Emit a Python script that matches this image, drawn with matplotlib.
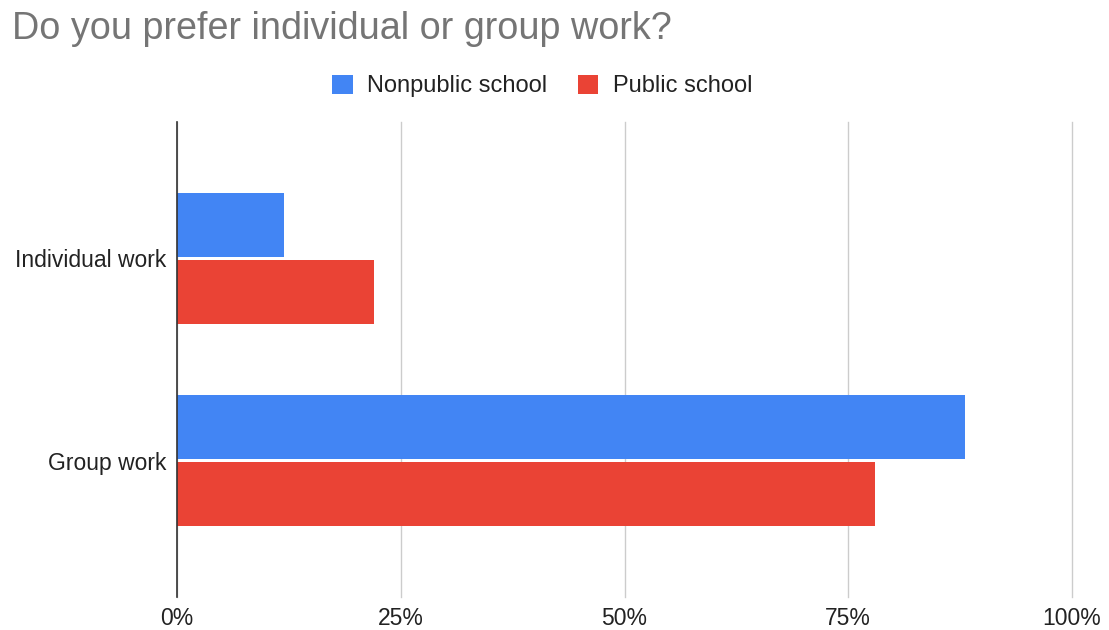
import numpy as np
import matplotlib
matplotlib.use("Agg")
import matplotlib.pyplot as plt
from matplotlib.ticker import FuncFormatter

plt.rcParams['font.family'] = ['Liberation Sans', 'DejaVu Sans']

# data
categories = ["Individual work", "Group work"]
series_names = ["Nonpublic school", "Public school"]
nonpublic = [12, 88]
public = [22, 78]
x_ticks = [0, 25, 50, 75, 100]

colors = ["#4285F4", "#EA4335"]

fig = plt.figure(figsize=(11.09, 6.30), dpi=100)
ax = fig.add_axes([177 / 1109, 1 - 597 / 630, (1072 - 177) / 1109, (597 - 122) / 630])

y = np.arange(len(categories))
h = 0.316
off = 0.165
ax.barh(y - off, nonpublic, height=h, color=colors[0], label=series_names[0], zorder=3)
ax.barh(y + off, public, height=h, color=colors[1], label=series_names[1], zorder=3)

ax.set_xlim(0, 100)
ax.set_ylim(1.675, -0.675)
ax.set_xticks(x_ticks)
ax.xaxis.set_major_formatter(FuncFormatter(lambda v, p: f"{v:.0f}%"))
ax.set_yticks(y)
ax.set_yticklabels(categories)
ax.tick_params(axis="both", length=0, labelsize=16.5, colors="#222222")
ax.tick_params(axis="x", pad=7)
ax.tick_params(axis="y", pad=7.5)

ax.grid(axis="x", color="#cccccc", linewidth=1, zorder=0)
for gl in ax.xaxis.get_gridlines():
    gl.set_clip_on(False)
for s in ["top", "right", "bottom"]:
    ax.spines[s].set_visible(False)
ax.spines["left"].set_color("#333333")
ax.spines["left"].set_linewidth(1.2)
ax.spines["left"].set_zorder(4)

fig.text(12 / 1109, 1 - 29 / 630, "Do you prefer individual or group work?",
         fontsize=27.2, color="#757575", va="center", ha="left")

leg = fig.legend(loc="center", bbox_to_anchor=(542 / 1109, 1 - 86 / 630), ncol=2,
                 frameon=False, fontsize=17, handlelength=0.88, handleheight=0.88,
                 handletextpad=0.6, columnspacing=1.3)
for t in leg.get_texts():
    t.set_color("#222222")

fig.savefig("out.png", dpi=100)
